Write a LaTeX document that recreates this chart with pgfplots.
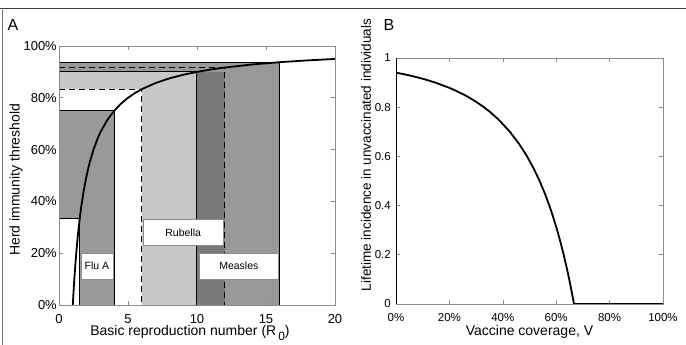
\documentclass[border=0pt]{standalone}
\usepackage{pgfplots}
\pgfplotsset{compat=1.18}
\usepackage{fontspec}
\setmainfont{Liberation Sans}
\definecolor{lgray}{gray}{0.78}
\definecolor{mgray}{gray}{0.60}
\definecolor{dgray}{gray}{0.48}
\definecolor{boxgray}{gray}{0.55}
\begin{document}
\begin{tikzpicture}[x=1pt,y=1pt]
\path[use as bounding box] (0,0) rectangle (686,345);
\draw[black!75, line width=0.9pt] (0,337) -- (686,337);
\draw[black!55, line width=0.9pt] (2.7,337) -- (2.7,0);
\node[font=\fontsize{16}{16}\selectfont] at (13,320) {A};
\node[font=\fontsize{16}{16}\selectfont] at (389,320) {B};

\begin{axis}[
  at={(59pt,40pt)}, anchor=south west,
  scale only axis, width=276pt, height=259pt,
  xmin=0, xmax=20, ymin=0, ymax=100,
  xtick={0,5,10,15,20}, xticklabels={0,5,10,15,20},
  ytick={0,20,40,60,80,100}, yticklabels={0\%,20\%,40\%,60\%,80\%,100\%},
  axis on top,
  axis line style={draw=black!45, line width=0.7pt},
  tick style={draw=black!45, line width=0.6pt},
  major tick length=4pt,
  tick align=inside,
  ticklabel style={font=\fontsize{13}{13}\selectfont},
  xticklabel style={anchor=north, inner sep=0pt, yshift=-9pt},
  yticklabel style={anchor=east, inner sep=0pt, xshift=-2pt},
  xlabel={Basic reproduction number (R\raisebox{-0.6ex}{\fontsize{12}{12}\selectfont\,0})},
  xlabel style={at={(axis description cs:0.5,0)}, anchor=center, yshift=-28pt, xshift=-7pt, font=\fontsize{14}{14}\selectfont},
  ylabel={Herd immunity threshold},
  ylabel style={at={(axis description cs:0,0.483)}, anchor=center, yshift=43pt, font=\fontsize{14}{14}\selectfont},
]
% rubella (light)
\addplot[fill=lgray, draw=none] coordinates {(6,0) (10,0) (10,90) (6,90)} -- cycle;
\addplot[fill=lgray, draw=none] coordinates {(0,83.33) (10,83.33) (10,90) (0,90)} -- cycle;
% measles (mid) and overlap (dark)
\addplot[fill=mgray, draw=none] coordinates {(0,90) (16,90) (16,93.75) (0,93.75)} -- cycle;
\addplot[fill=mgray, draw=none] coordinates {(12,0) (16,0) (16,93.75) (12,93.75)} -- cycle;
\addplot[fill=dgray, draw=none] coordinates {(10,0) (12,0) (12,90) (10,90)} -- cycle;
% flu A
\addplot[fill=mgray, draw=none] coordinates {(1.5,0) (4,0) (4,75) (1.5,75)} -- cycle;
\addplot[fill=mgray, draw=none] coordinates {(0,33.33) (4,33.33) (4,75) (0,75)} -- cycle;
% solid outlines
\addplot[black, line width=1pt] coordinates {(0,75) (4,75) (4,0)};
\addplot[black, line width=1pt] coordinates {(0,33.33) (1.5,33.33) (1.5,0)};
\addplot[black, line width=1pt] coordinates {(0,93.75) (16,93.75) (16,0)};
\addplot[black, line width=1pt] coordinates {(0,90) (10,90) (10,0)};
% dashed (rubella)
\addplot[black, line width=1pt, dash pattern=on 6pt off 4pt] coordinates {(0,83.33) (6,83.33) (6,0)};
\addplot[black, line width=1pt, dash pattern=on 6pt off 4pt] coordinates {(0,91.67) (12,91.67) (12,0)};
% threshold curve
\addplot[black, line width=1.8pt] coordinates {
(1,0) (1.05,4.76) (1.1,9.09) (1.15,13.04) (1.2,16.67) (1.3,23.08) (1.4,28.57)
(1.5,33.33) (1.6,37.5) (1.8,44.44) (2,50) (2.2,54.55) (2.5,60) (2.8,64.29)
(3,66.67) (3.5,71.43) (4,75) (4.5,77.78) (5,80) (5.5,81.82) (6,83.33)
(7,85.71) (8,87.5) (9,88.89) (10,90) (11,90.91) (12,91.67) (14,92.86)
(16,93.75) (18,94.44) (20,95)};
% label boxes
\addplot[fill=white, draw=boxgray, line width=0.6pt] coordinates {(1.6,10) (3.9,10) (3.9,20) (1.6,20)} -- cycle;
\addplot[fill=white, draw=boxgray, line width=0.6pt] coordinates {(6.1,23) (11.9,23) (11.9,33) (6.1,33)} -- cycle;
\addplot[fill=white, draw=boxgray, line width=0.6pt] coordinates {(10.15,10) (15.9,10) (15.9,20) (10.15,20)} -- cycle;
\node[font=\fontsize{10.5}{10.5}\selectfont] at (axis cs:2.75,15) {Flu A};
\node[font=\fontsize{10.5}{10.5}\selectfont] at (axis cs:9,28) {Rubella};
\node[font=\fontsize{10.5}{10.5}\selectfont] at (axis cs:13.03,15) {Measles};
\draw[black, line width=0.8pt] (rel axis cs:0,1) -- (rel axis cs:0,0) -- (rel axis cs:1,0);
\end{axis}

\begin{axis}[
  at={(396pt,41pt)}, anchor=south west,
  scale only axis, width=267pt, height=246pt,
  xmin=0, xmax=100, ymin=0, ymax=1,
  xtick={0,20,40,60,80,100}, xticklabels={0\%,20\%,40\%,60\%,80\%,100\%},
  ytick={0,0.2,0.4,0.6,0.8,1}, yticklabels={0,0.2,0.4,0.6,0.8,1},
  axis line style={draw=black!45, line width=0.7pt},
  tick style={draw=black!45, line width=0.6pt},
  major tick length=4pt,
  tick align=inside,
  ticklabel style={font=\fontsize{11.5}{11.5}\selectfont},
  xticklabel style={anchor=north, inner sep=0pt, yshift=-9pt},
  yticklabel style={anchor=east, inner sep=0pt, xshift=-5pt},
  xlabel={Vaccine coverage, V},
  xlabel style={at={(axis description cs:0.5,0)}, anchor=center, yshift=-28pt, font=\fontsize{14}{14}\selectfont},
  ylabel={Lifetime incidence in unvaccinated individuals},
  ylabel style={at={(axis description cs:0,0.606)}, anchor=center, yshift=30pt, font=\fontsize{13.5}{13.5}\selectfont},
]
\addplot[black, line width=1.8pt] coordinates {
(0,0.9405) (2.55,0.935) (4.69,0.93) (8.49,0.92) (11.80,0.91) (14.72,0.90)
(19.69,0.88) (21.83,0.87) (25.60,0.85) (27.28,0.84) (30.29,0.82) (32.94,0.80)
(35.29,0.78) (38.39,0.75) (42.67,0.70) (46.16,0.65) (49.09,0.60) (51.61,0.55)
(53.79,0.50) (55.72,0.45) (57.43,0.40) (58.97,0.35) (60.37,0.30) (61.64,0.25)
(62.81,0.20) (63.88,0.15) (64.88,0.10) (65.80,0.05) (66.67,0) (100,0)};
\draw[black, line width=0.8pt] (rel axis cs:0,1) -- (rel axis cs:0,0) -- (rel axis cs:1,0);
\end{axis}
\end{tikzpicture}
\end{document}
